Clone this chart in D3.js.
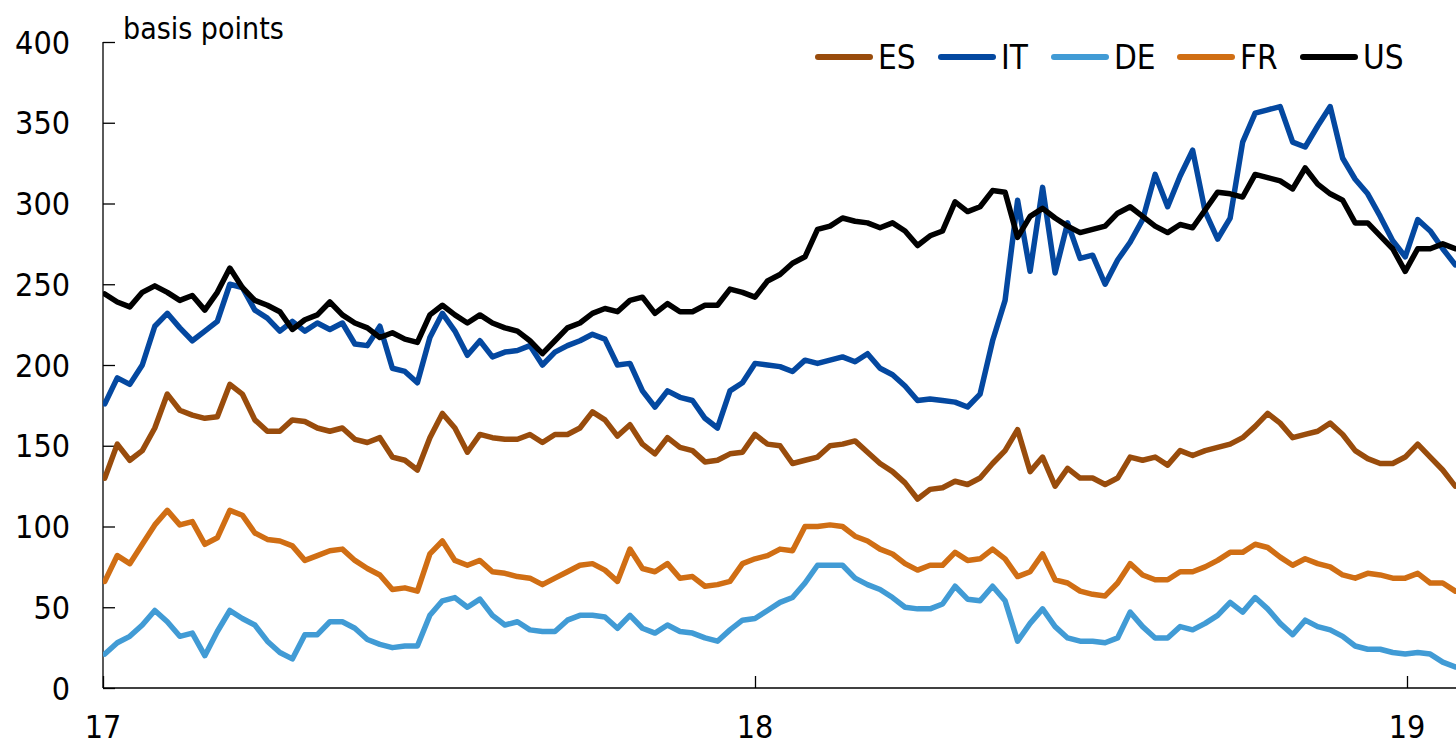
<!DOCTYPE html>
<html>
<head>
<meta charset="utf-8">
<script src="https://cdn.jsdelivr.net/npm/d3@7"></script>
<style>
  html, body { margin: 0; padding: 0; background: #fff; }
  svg { display: block; }
  text { font-family: "DejaVu Sans Condensed", "DejaVu Sans", sans-serif; font-stretch: condensed; fill: #000; }
</style>
</head>
<body>
<svg id="chart" width="1456" height="749"></svg>
<script>
// Weekly observation dates (Mondays)
const dates = [
"2017-01-02","2017-01-09","2017-01-16","2017-01-23","2017-01-30","2017-02-06","2017-02-13","2017-02-20","2017-02-27",
"2017-03-06","2017-03-13","2017-03-20","2017-03-27","2017-04-03","2017-04-10","2017-04-17","2017-04-24",
"2017-05-01","2017-05-08","2017-05-15","2017-05-22","2017-05-29","2017-06-05","2017-06-12","2017-06-19","2017-06-26",
"2017-07-03","2017-07-10","2017-07-17","2017-07-24","2017-07-31","2017-08-07","2017-08-14","2017-08-21","2017-08-28",
"2017-09-04","2017-09-11","2017-09-18","2017-09-25","2017-10-02","2017-10-09","2017-10-16","2017-10-23","2017-10-30",
"2017-11-06","2017-11-13","2017-11-20","2017-11-27","2017-12-04","2017-12-11","2017-12-18","2017-12-25",
"2018-01-01","2018-01-08","2018-01-15","2018-01-22","2018-01-29","2018-02-05","2018-02-12","2018-02-19","2018-02-26",
"2018-03-05","2018-03-12","2018-03-19","2018-03-26","2018-04-02","2018-04-09","2018-04-16","2018-04-23","2018-04-30",
"2018-05-07","2018-05-14","2018-05-21","2018-05-28","2018-06-04","2018-06-11","2018-06-18","2018-06-25",
"2018-07-02","2018-07-09","2018-07-16","2018-07-23","2018-07-30","2018-08-06","2018-08-13","2018-08-20","2018-08-27",
"2018-09-03","2018-09-10","2018-09-17","2018-09-24","2018-10-01","2018-10-08","2018-10-15","2018-10-22","2018-10-29",
"2018-11-05","2018-11-12","2018-11-19","2018-11-26","2018-12-03","2018-12-10","2018-12-17","2018-12-24","2018-12-31",
"2019-01-07","2019-01-14","2019-01-21","2019-01-28"
];

const ES = [130,151,141,147,161,182,172,169,167,168,188,182,166,159,159,166,165,161,159,161,154,152,155,143,141,135,155,170,
161,146,157,155,154,154,157,152,157,157,161,171,166,156,163,151,145,155,149,147,140,141,145,146,157,151,150,
139,141,143,150,151,153,146,139,134,127,117,123,124,128,126,130,139,147,160,134,143,125,136,130,130,126,
130,143,141,143,138,147,144,147,149,151,155,162,170,164,155,157,159,164,157,147,142,139,139,143,151,143,135,125];

const IT = [176,192,188,200,224,232,223,215,221,227,250,248,234,229,221,227,221,226,222,226,213,212,224,198,196,189,217,232,
221,206,215,205,208,209,212,200,208,212,215,219,216,200,201,184,174,184,180,178,167,161,184,189,201,200,199,
196,203,201,203,205,202,207,198,194,187,178,179,178,177,174,182,215,240,302,258,310,257,288,266,268,250,
265,276,290,318,298,317,333,295,278,291,338,356,358,360,338,335,348,360,328,315,306,292,277,267,290,283,272,262];

const DE = [21,28,32,39,48,41,32,34,20,35,48,43,39,29,22,18,33,33,41,41,37,30,27,25,26,26,45,54,
56,50,55,45,39,41,36,35,35,42,45,45,44,37,45,37,34,39,35,34,31,29,36,42,43,48,53,
56,65,76,76,76,68,64,61,56,50,49,49,52,63,55,54,63,54,29,40,49,38,31,29,29,28,
31,47,38,31,31,38,36,40,45,53,47,56,49,40,33,42,38,36,32,26,24,24,22,21,22,21,16,13];

const FR = [66,82,77,89,101,110,101,103,89,93,110,107,96,92,91,88,79,82,85,86,79,74,70,61,62,60,83,91,
79,76,79,72,71,69,68,64,68,72,76,77,73,66,86,74,72,77,68,69,63,64,66,77,80,82,86,
85,100,100,101,100,94,91,86,83,77,73,76,76,84,79,80,86,80,69,72,83,67,65,60,58,57,
65,77,70,67,67,72,72,75,79,84,84,89,87,81,76,80,77,75,70,68,71,70,68,68,71,65,65,60];

const US = [244,239,236,245,249,245,240,243,234,245,260,248,240,237,233,222,228,231,239,231,226,223,217,220,216,214,231,237,
231,226,231,226,223,221,215,207,215,223,226,232,235,233,240,242,232,238,233,233,237,237,247,245,242,252,256,
263,267,284,286,291,289,288,285,288,283,274,280,283,301,295,298,308,307,279,292,297,291,286,282,284,286,
294,298,292,286,282,287,285,296,307,306,304,318,316,314,309,322,312,306,302,288,288,280,272,258,272,272,275,272];

const seriesNames = ["ES","IT","DE","FR","US"];
const seriesColors = ["#994c0c","#0448a0","#419bd5","#d06e14","#000000"];
const seriesValues = [ES, IT, DE, FR, US];

const yTicks = [0,50,100,150,200,250,300,350,400];
const xTickDates = ["2017-01-01","2018-01-01","2019-01-01"];
const xTickLabels = ["17","18","19"];
const yTitle = "basis points";

const svg = d3.select("#chart");
const W = 1456, H = 749;
const mLeft = 103, mBottom = 688, mTop = 42, x19 = 1407;

const parse = d3.utcParse("%Y-%m-%d");
const x = d3.scaleUtc()
  .domain([parse("2017-01-01"), parse("2019-01-01")])
  .range([mLeft, x19]);
const y = d3.scaleLinear().domain([0, 400]).range([mBottom, mTop]);

svg.append("defs").append("clipPath").attr("id", "plotclip")
  .append("rect").attr("x", mLeft).attr("y", 0).attr("width", W - mLeft).attr("height", mBottom);

// Y axis
const yAxis = svg.append("g").attr("transform", `translate(${mLeft},0)`)
  .call(d3.axisRight(y).tickValues(yTicks).tickSize(12).tickFormat(""));
yAxis.select(".domain").attr("d", `M0,${mTop}V${mBottom}`).attr("stroke", "#000").attr("stroke-width", 1.3);
yAxis.selectAll(".tick line").attr("stroke", "#000").attr("stroke-width", 1.3);

svg.append("g").selectAll("text").data(yTicks).join("text")
  .attr("x", 70).attr("y", d => y(d)).attr("dy", "0.36em")
  .attr("text-anchor", "end").attr("font-size", 32).text(d => d);

// X axis
const xAxis = svg.append("g").attr("transform", `translate(0,${mBottom})`)
  .call(d3.axisTop(x).tickValues(xTickDates.map(parse)).tickSize(12).tickFormat(""));
xAxis.select(".domain").attr("d", `M${mLeft},0H${W}`).attr("stroke", "#000").attr("stroke-width", 1.3);
xAxis.selectAll(".tick line").attr("stroke", "#000").attr("stroke-width", 1.3);

svg.append("g").selectAll("text").data(xTickDates).join("text")
  .attr("x", d => x(parse(d))).attr("y", 726).attr("dy", "0.36em")
  .attr("text-anchor", "middle").attr("font-size", 32)
  .text((d, i) => xTickLabels[i]);

svg.append("text").attr("x", 123).attr("y", 28).attr("dy", "0.36em")
  .attr("font-size", 30).text(yTitle);

// Lines
const parsedDates = dates.map(parse);
const line = d3.line().x((d, i) => x(parsedDates[i])).y(d => y(d)).curve(d3.curveLinear);
const g = svg.append("g").attr("clip-path", "url(#plotclip)");
[0, 1, 2, 3, 4].forEach(si => {
  g.append("path").datum(seriesValues[si])
    .attr("d", line)
    .attr("fill", "none")
    .attr("stroke", seriesColors[si])
    .attr("stroke-width", 5.5)
    .attr("stroke-linejoin", "round")
    .attr("stroke-linecap", "round");
});

// Legend
const legendLineX = [818, 941, 1054, 1180, 1303];
const legendY = 57;
const lg = svg.append("g");
seriesNames.forEach((n, i) => {
  lg.append("line").attr("x1", legendLineX[i]).attr("x2", legendLineX[i] + 52)
    .attr("y1", legendY).attr("y2", legendY)
    .attr("stroke", seriesColors[i]).attr("stroke-width", 6).attr("stroke-linecap", "round");
  lg.append("text").attr("x", legendLineX[i] + 60).attr("y", legendY).attr("dy", "0.36em")
    .attr("font-size", 33).text(n);
});
</script>
</body>
</html>
